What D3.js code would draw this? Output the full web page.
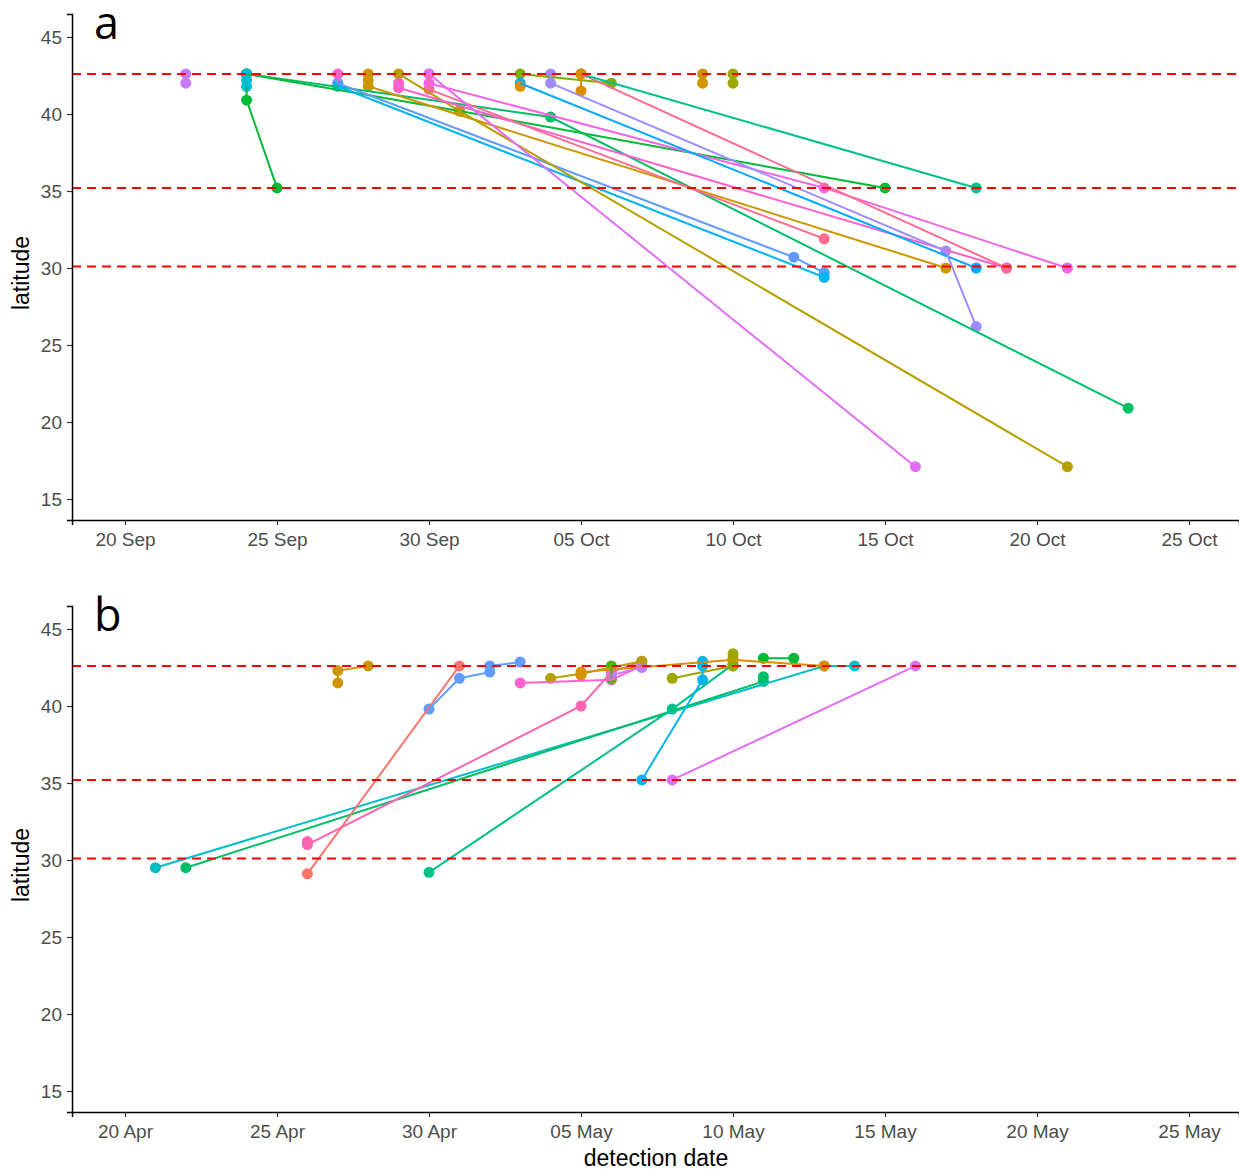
<!DOCTYPE html>
<html>
<head>
<meta charset="utf-8">
<script src="https://d3js.org/d3.v7.min.js"></script>
<style>
  body { margin: 0; background: #fff; }
  svg { display: block; overflow: visible; font-family: "Liberation Sans", Arial, sans-serif; }
</style>
</head>
<body>
<div id="chart"></div>
<script>
(() => {
    // Tick values / labels
    const latTicks = [15, 20, 25, 30, 35, 40, 45];
    const refLats = [42.6, 35.2, 30.1];
    const autumnTicks = ["2021-09-20", "2021-09-25", "2021-09-30", "2021-10-05", "2021-10-10", "2021-10-15", "2021-10-20", "2021-10-25"];
    const springTicks = ["2021-04-20", "2021-04-25", "2021-04-30", "2021-05-05", "2021-05-10", "2021-05-15", "2021-05-20", "2021-05-25"];
    const panelLabels = ["a", "b"];
    const axisTitles = ["latitude", "detection date"];

    // Tracks: [bird id, [[date, latitude], ...]]
    const autumnTracks = [
        [19, [["2021-09-22", 42.6], ["2021-09-22", 42.0]]],
        [9,  [["2021-09-24", 42.6], ["2021-09-24", 40.9], ["2021-09-25", 35.2]]],
        [10, [["2021-09-24", 42.6], ["2021-10-04", 39.8], ["2021-10-23", 20.9]]],
        [9,  [["2021-09-24", 42.6], ["2021-10-01", 40.2], ["2021-10-15", 35.2]]],
        [14, [["2021-09-24", 42.6], ["2021-09-24", 42.2], ["2021-09-24", 41.8]]],
        [22, [["2021-09-27", 42.6], ["2021-09-27", 42.0]]],
        [17, [["2021-09-27", 42.0], ["2021-10-12", 30.7], ["2021-10-13", 29.7]]],
        [15, [["2021-09-27", 41.8], ["2021-10-13", 29.4]]],
        [4,  [["2021-09-28", 42.6], ["2021-09-28", 42.2], ["2021-09-28", 41.8], ["2021-10-17", 30.0]]],
        [5,  [["2021-09-29", 42.6], ["2021-10-01", 40.2], ["2021-10-21", 17.1]]],
        [22, [["2021-09-29", 42.0], ["2021-09-29", 41.7], ["2021-10-19", 30.0]]],
        [24, [["2021-09-30", 42.6], ["2021-09-30", 41.6], ["2021-10-13", 31.9]]],
        [20, [["2021-09-30", 42.6], ["2021-10-16", 17.1]]],
        [21, [["2021-09-30", 42.0], ["2021-10-13", 35.2], ["2021-10-21", 30.0]]],
        [7,  [["2021-10-03", 42.6], ["2021-10-06", 42.0]]],
        [16, [["2021-10-03", 42.0], ["2021-10-18", 30.0]]],
        [3,  [["2021-10-03", 41.8]]],
        [18, [["2021-10-04", 42.6], ["2021-10-04", 42.0], ["2021-10-17", 31.1], ["2021-10-18", 26.2]]],
        [24, [["2021-10-05", 42.6], ["2021-10-19", 30.0]]],
        [11, [["2021-10-05", 42.6], ["2021-10-18", 35.2]]],
        [3,  [["2021-10-05", 42.6], ["2021-10-05", 41.5]]],
        [4,  [["2021-10-09", 42.6], ["2021-10-09", 42.0]]],
        [6,  [["2021-10-10", 42.6], ["2021-10-10", 42.0]]]
    ];

    const springTracks = [
        [13, [["2021-04-21", 29.5], ["2021-05-13", 42.6], ["2021-05-14", 42.6]]],
        [10, [["2021-04-22", 29.5], ["2021-05-11", 41.6], ["2021-05-11", 41.9]]],
        [1,  [["2021-04-26", 29.1], ["2021-05-01", 42.6]]],
        [23, [["2021-04-26", 31.2], ["2021-04-26", 31.0], ["2021-05-05", 40.0], ["2021-05-06", 42.2], ["2021-05-07", 42.9]]],
        [22, [["2021-05-03", 41.5], ["2021-05-06", 41.7], ["2021-05-07", 42.6]]],
        [11, [["2021-04-30", 29.2], ["2021-05-08", 39.8], ["2021-05-10", 42.7]]],
        [17, [["2021-04-30", 39.8], ["2021-05-01", 41.8], ["2021-05-02", 42.2], ["2021-05-02", 42.6], ["2021-05-03", 42.85]]],
        [4,  [["2021-04-27", 41.5], ["2021-04-27", 42.3], ["2021-04-28", 42.6]]],
        [5,  [["2021-05-04", 41.8], ["2021-05-05", 42.1], ["2021-05-07", 42.9], ["2021-05-07", 42.6]]],
        [3,  [["2021-05-05", 42.0], ["2021-05-05", 42.2], ["2021-05-10", 43.0], ["2021-05-13", 42.6]]],
        [8,  [["2021-05-06", 41.8], ["2021-05-06", 42.6]]],
        [19, [["2021-05-06", 42.0], ["2021-05-07", 42.5]]],
        [6,  [["2021-05-08", 41.8], ["2021-05-10", 42.6]]],
        [6,  [["2021-05-10", 43.4], ["2021-05-10", 43.1], ["2021-05-10", 42.6]]],
        [15, [["2021-05-07", 35.2], ["2021-05-09", 41.7], ["2021-05-09", 42.6], ["2021-05-09", 42.9]]],
        [20, [["2021-05-08", 35.2], ["2021-05-16", 42.6]]],
        [9,  [["2021-05-11", 43.1], ["2021-05-12", 43.1]]]
    ];

    // Style configuration
    const styles = {
        width: 1239,
        height: 1170,
        plotLeft: 72,
        plotRight: 1239,
        panelTops: [14, 606],
        panelHeight: 506,
        tickFirst: 125,
        tickLast: 1189,
        latTop: 45, latTopPx: 23,
        latBottom: 15, latBottomPx: 485,
        line: { width: 2 },
        dot: { r: 5.5 },
        ref: { stroke: "#ff0000", width: 2, dash: "9,6" },
        tickText: { fill: "#4d4d4d", size: "19px" },
        title: { size: "23px" },
        label: { size: "45px", family: "'Open Sans', 'DejaVu Sans', sans-serif" }
    };

    // ggplot-style hue palette (HCL in CIE Luv, l = 65, c = 100)
    const huePal = (n) => d3.range(n).map(i => {
        const h = (15 + 360 * i / n) * Math.PI / 180;
        const L = 65, C = 100;
        const u = C * Math.cos(h), v = C * Math.sin(h);
        const Y = Math.pow((L + 16) / 116, 3);
        const un = 0.1978, vn = 0.4683;
        const up = u / (13 * L) + un, vp = v / (13 * L) + vn;
        const X = Y * 9 * up / (4 * vp);
        const Z = Y * (12 - 3 * up - 20 * vp) / (4 * vp);
        const lin = [
            3.2404542 * X - 1.5371385 * Y - 0.4985314 * Z,
            -0.9692660 * X + 1.8760108 * Y + 0.0415560 * Z,
            0.0556434 * X - 0.2040259 * Y + 1.0572252 * Z
        ];
        const g = lin.map(c => {
            c = Math.max(0, Math.min(1, c));
            return 255 * (c <= 0.0031308 ? 12.92 * c : 1.055 * Math.pow(c, 1 / 2.4) - 0.055);
        });
        return d3.rgb(g[0], g[1], g[2]).formatHex();
    });
    const palette = huePal(24);
    const color = id => palette[id - 1];

    const parse = d3.utcParse("%Y-%m-%d");

    const svg = d3.select("#chart").append("svg")
        .attr("width", styles.width)
        .attr("height", styles.height);

    const renderPanel = (tracks, tickDates, top, label) => {
        const ticks = tickDates.map(parse);
        const x = d3.scaleUtc()
            .domain([ticks[0], ticks[ticks.length - 1]])
            .range([styles.tickFirst, styles.tickLast]);
        x.domain([x.invert(styles.plotLeft), x.invert(styles.plotRight)])
            .range([styles.plotLeft, styles.plotRight]);

        const yPx = d3.scaleLinear()
            .domain([styles.latBottom, styles.latTop])
            .range([styles.latBottomPx, styles.latTopPx]);
        const y = d3.scaleLinear()
            .domain([yPx.invert(styles.panelHeight), yPx.invert(0)])
            .range([styles.panelHeight, 0]);

        const g = svg.append("g").attr("transform", `translate(0,${top})`);

        const data = tracks.map(([id, pts]) => ({
            id,
            pts: pts.map(([d, lat]) => ({ date: parse(d), lat }))
        }));

        // points first, lines over them
        data.forEach(t => {
            g.selectAll(null)
                .data(t.pts)
                .enter().append("circle")
                .attr("cx", d => x(d.date))
                .attr("cy", d => y(d.lat))
                .attr("r", styles.dot.r)
                .attr("fill", color(t.id));
        });

        const line = d3.line()
            .x(d => x(d.date))
            .y(d => y(d.lat));

        g.selectAll(".track")
            .data(data)
            .enter().append("path")
            .attr("class", "track")
            .attr("fill", "none")
            .attr("stroke", d => color(d.id))
            .attr("stroke-width", styles.line.width)
            .attr("d", d => line(d.pts));

        // reference latitudes
        g.selectAll(".ref")
            .data(refLats)
            .enter().append("line")
            .attr("x1", styles.plotLeft)
            .attr("x2", styles.plotRight)
            .attr("y1", d => y(d))
            .attr("y2", d => y(d))
            .attr("stroke", styles.ref.stroke)
            .attr("stroke-width", styles.ref.width)
            .attr("stroke-dasharray", styles.ref.dash);

        // axes
        const xAxis = g.append("g")
            .attr("transform", `translate(0,${styles.panelHeight})`)
            .call(d3.axisBottom(x).tickValues(ticks).tickFormat(d3.utcFormat("%d %b")).tickSizeOuter(0).tickSize(5).tickPadding(8));
        const yAxis = g.append("g")
            .attr("transform", `translate(${styles.plotLeft},0)`)
            .call(d3.axisLeft(y).tickValues(latTicks).tickSizeOuter(0).tickSize(5).tickPadding(5));

        [xAxis, yAxis].forEach(a => {
            a.select(".domain").attr("stroke", "#000").attr("stroke-width", 1.5);
            a.selectAll(".tick line").attr("stroke", "#333").attr("stroke-width", 1.2);
            a.selectAll(".tick text")
                .attr("fill", styles.tickText.fill)
                .style("font-size", styles.tickText.size)
                .style("font-family", "'Liberation Sans', Arial, sans-serif");
        });

        // y axis title
        g.append("text")
            .attr("transform", `translate(29,${styles.panelHeight / 2 + 6}) rotate(-90)`)
            .attr("text-anchor", "middle")
            .style("font-size", styles.title.size)
            .text(axisTitles[0]);

        // panel label
        g.append("text")
            .attr("x", 94)
            .attr("y", 25)
            .style("font-size", styles.label.size)
            .style("font-family", styles.label.family)
            .text(label);
    };

    renderPanel(autumnTracks, autumnTicks, styles.panelTops[0], panelLabels[0]);
    renderPanel(springTracks, springTicks, styles.panelTops[1], panelLabels[1]);

    svg.append("text")
        .attr("x", 656)
        .attr("y", 1166)
        .attr("text-anchor", "middle")
        .style("font-size", styles.title.size)
        .text(axisTitles[1]);
})();
</script>
</body>
</html>
